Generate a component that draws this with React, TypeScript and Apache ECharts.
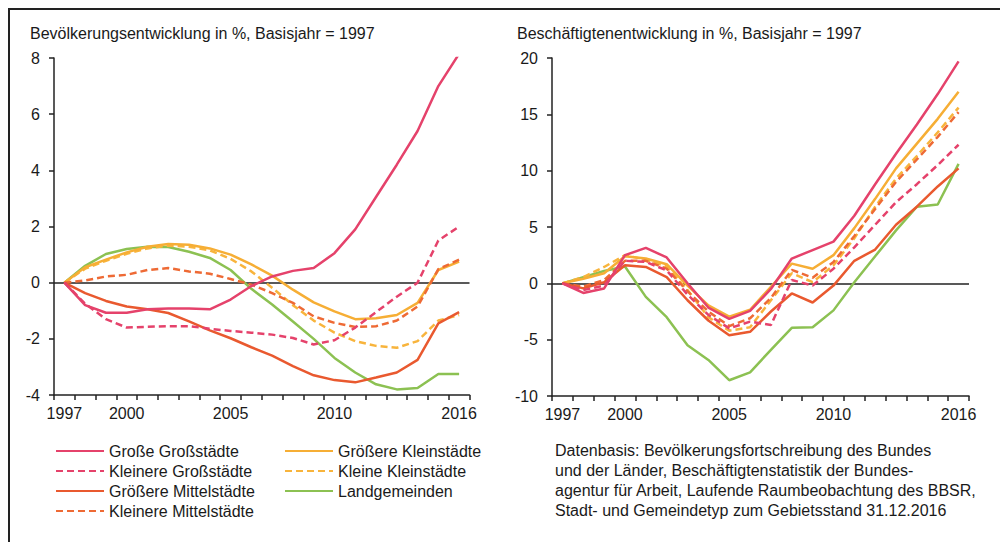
import React, { useEffect, useRef } from "react";
import * as echarts from "echarts";

const years = ["1997", "1998", "1999", "2000", "2001", "2002", "2003", "2004", "2005", "2006", "2007", "2008", "2009", "2010", "2011", "2012", "2013", "2014", "2015", "2016"];
const labelYears = ["1997", "2000", "2005", "2010", "2016"];

const names = ["Große Großstädte", "Kleinere Großstädte", "Größere Mittelstädte", "Kleinere Mittelstädte", "Größere Kleinstädte", "Kleine Kleinstädte", "Landgemeinden"];
const colors = ["#e5426b", "#e5426b", "#e9592f", "#ee6a35", "#f6ae35", "#f8b43c", "#8cc152"];
const dashed = [false, true, false, true, false, true, false];

// Bevölkerungsentwicklung (%)
const bevGrosseGross = [0, -0.8, -1.07, -1.07, -0.95, -0.92, -0.92, -0.95, -0.6, -0.12, 0.22, 0.42, 0.52, 1.05, 1.9, 3.05, 4.2, 5.4, 7.0, 8.15];
const bevKleinereGross = [0, -0.75, -1.3, -1.6, -1.57, -1.55, -1.55, -1.64, -1.72, -1.78, -1.85, -1.97, -2.2, -2.05, -1.6, -1.05, -0.5, 0.0, 1.5, 2.0];
const bevGroessereMittel = [0, -0.37, -0.65, -0.85, -0.95, -1.08, -1.38, -1.7, -1.98, -2.3, -2.6, -2.97, -3.3, -3.47, -3.55, -3.38, -3.2, -2.75, -1.45, -1.05];
const bevKleinereMittel = [0, 0.08, 0.22, 0.28, 0.45, 0.52, 0.4, 0.32, 0.13, -0.07, -0.37, -0.72, -1.2, -1.43, -1.58, -1.55, -1.35, -0.85, 0.48, 0.82];
const bevGroessereKlein = [0, 0.55, 0.82, 1.08, 1.28, 1.38, 1.35, 1.22, 1.0, 0.65, 0.25, -0.25, -0.7, -1.02, -1.3, -1.27, -1.15, -0.72, 0.45, 0.75];
const bevKleineKlein = [0, 0.5, 0.78, 1.03, 1.22, 1.32, 1.28, 1.15, 0.85, 0.4, -0.18, -0.8, -1.35, -1.78, -2.08, -2.25, -2.32, -2.08, -1.35, -1.15];
const bevLand = [0, 0.6, 1.02, 1.2, 1.28, 1.27, 1.1, 0.88, 0.45, -0.22, -0.78, -1.38, -2.0, -2.68, -3.2, -3.62, -3.8, -3.75, -3.25, -3.25];

// Beschäftigtenentwicklung (%)
const besGrosseGross = [0, -0.85, -0.45, 2.5, 3.15, 2.3, 0.0, -2.15, -3.15, -2.45, -0.5, 2.2, 2.95, 3.7, 6.0, 8.8, 11.5, 14.1, 16.8, 19.7];
const besKleinereGross = [0, -0.6, -0.2, 2.0, 1.9, 1.15, -1.0, -2.8, -4.0, -3.4, -3.7, 0.3, -0.2, 1.3, 3.2, 5.2, 7.2, 8.8, 10.5, 12.3];
const besGroessereMittel = [0, -0.45, 0.1, 1.6, 1.45, 0.55, -1.5, -3.3, -4.6, -4.3, -2.5, -0.9, -1.7, -0.2, 2.0, 3.0, 5.2, 6.8, 8.6, 10.2];
const besKleinereMittel = [0, -0.3, 0.3, 2.0, 2.0, 1.3, -0.7, -2.5, -3.8, -3.1, -1.3, 1.2, 0.5, 1.9, 4.2, 6.6, 9.0, 11.0, 13.0, 15.2];
const besGroessereKlein = [0, 0.4, 0.9, 2.4, 2.2, 1.7, -0.2, -1.95, -2.95, -2.35, -0.3, 1.75, 1.3, 2.5, 4.9, 7.5, 10.2, 12.4, 14.6, 17.0];
const besKleineKlein = [0, 0.55, 1.45, 2.5, 2.1, 1.5, -0.6, -3.0, -4.2, -3.9, -1.5, 0.9, 0.1, 1.6, 4.0, 6.8, 9.3, 11.3, 13.4, 15.6];
const besLand = [0, 0.55, 1.1, 1.5, -1.2, -3.0, -5.5, -6.8, -8.6, -7.9, -5.9, -3.95, -3.9, -2.4, 0.1, 2.4, 4.7, 6.8, 7.0, 10.6];

const bevData = [bevGrosseGross, bevKleinereGross, bevGroessereMittel, bevKleinereMittel, bevGroessereKlein, bevKleineKlein, bevLand];
const besData = [besGrosseGross, besKleinereGross, besGroessereMittel, besKleinereMittel, besGroessereKlein, besKleineKlein, besLand];

const titleLeft = "Bevölkerungsentwicklung in %, Basisjahr = 1997";
const titleRight = "Beschäftigtenentwicklung in %, Basisjahr = 1997";
const sourceLines = [
  "Datenbasis: Bevölkerungsfortschreibung des Bundes",
  "und der Länder, Beschäftigtenstatistik der Bundes-",
  "agentur für Arbeit, Laufende Raumbeobachtung des BBSR,",
  "Stadt- und Gemeindetyp zum Gebietsstand 31.12.2016",
];

const FONT = "'Liberation Sans', Arial, Helvetica, sans-serif";
const INK = "#1a1a1a";

export default function App() {
  const ref = useRef<HTMLDivElement>(null);

  useEffect(() => {
    if (!ref.current) return;
    const chart = echarts.init(ref.current, undefined, { renderer: "svg" });
    const axisLineStyle = { color: "#222", width: 1.5 };

    const makeX = (gridIndex: number) => ({
      type: "category",
      gridIndex,
      data: years,
      boundaryGap: true,
      axisLine: { show: true, onZero: false, lineStyle: axisLineStyle },
      axisTick: { show: true, interval: 0, length: 5, lineStyle: axisLineStyle },
      axisLabel: {
        interval: (_i: number, v: string) => labelYears.includes(v),
        margin: 10,
        fontSize: 16,
        color: INK,
        fontFamily: FONT,
      },
      splitLine: { show: false },
    });

    const makeY = (gridIndex: number, min: number, max: number, interval: number) => ({
      type: "value",
      gridIndex,
      min,
      max,
      interval,
      axisLine: { show: true, lineStyle: axisLineStyle },
      axisTick: { show: true, length: 5, lineStyle: axisLineStyle },
      axisLabel: { margin: 14, fontSize: 16, color: INK, fontFamily: FONT },
      splitLine: { show: false },
    });

    const makeSeries = (data: number[][], idx: number) =>
      data.map((d, i) => ({
        type: "line",
        name: names[i],
        xAxisIndex: idx,
        yAxisIndex: idx,
        data: d,
        symbol: "none",
        showSymbol: false,
        z: 3 + (6 - i),
        lineStyle: { color: colors[i], width: 2.5, type: dashed[i] ? [7, 4] : "solid" },
        itemStyle: { color: colors[i] },
        ...(i === 0
          ? {
              markLine: {
                silent: true,
                symbol: ["none", "none"],
                label: { show: false },
                lineStyle: { color: "#222", width: 1.5, type: "solid" },
                data: [{ yAxis: 0 }],
                z: 2,
              },
            }
          : {}),
      }));

    const legendBase = {
      orient: "vertical",
      top: 436,
      itemWidth: 48,
      itemHeight: 14,
      itemGap: 0,
      selectedMode: false,
      itemStyle: { opacity: 0, borderWidth: 0 },
      textStyle: { fontSize: 16, lineHeight: 20, color: INK, fontFamily: FONT },
    };

    chart.setOption({
      animation: false,
      textStyle: { fontFamily: FONT },
      title: [
        { text: titleLeft, left: 30, top: 25, padding: 0, textStyle: { fontSize: 16, fontWeight: "normal", color: INK, fontFamily: FONT } },
        { text: titleRight, left: 517, top: 25, padding: 0, textStyle: { fontSize: 16, fontWeight: "normal", color: INK, fontFamily: FONT } },
      ],
      grid: [
        { left: 54, top: 58, width: 415.5, height: 337 },
        { left: 552, top: 58, width: 417, height: 338 },
      ],
      xAxis: [makeX(0), makeX(1)],
      yAxis: [makeY(0, -4, 8, 2), makeY(1, -10, 20, 5)],
      legend: [
        { ...legendBase, left: 50, data: names.slice(0, 4) },
        { ...legendBase, left: 279, data: names.slice(4) },
      ],
      series: [...makeSeries(bevData, 0), ...makeSeries(besData, 1)],
      graphic: [
        { type: "line", shape: { x1: 8, y1: 9, x2: 1000, y2: 9 }, style: { stroke: "#222", lineWidth: 2 } },
        { type: "line", shape: { x1: 9, y1: 8, x2: 9, y2: 542 }, style: { stroke: "#222", lineWidth: 2 } },
        {
          type: "text",
          x: 555,
          y: 440,
          style: {
            text: sourceLines.join("\n"),
            font: `16px ${FONT}`,
            lineHeight: 20,
            fill: INK,
            textVerticalAlign: "top",
          },
        },
      ],
    });

    return () => chart.dispose();
  }, []);

  return (
    <div
      ref={ref}
      style={{ position: "fixed", left: 0, top: 0, width: 1000, height: 542, background: "#fff" }}
    />
  );
}
